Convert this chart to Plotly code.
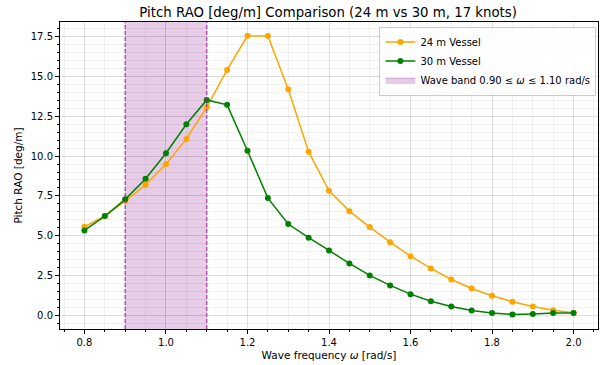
import plotly.graph_objects as go

omega = [0.80, 0.85, 0.90, 0.95, 1.00, 1.05, 1.10, 1.15, 1.20, 1.25, 1.30, 1.35, 1.40,
         1.45, 1.50, 1.55, 1.60, 1.65, 1.70, 1.75, 1.80, 1.85, 1.90, 1.95, 2.00]
rao_24m = [5.56, 6.22, 7.17, 8.20, 9.48, 11.08, 13.07, 15.42, 17.56, 17.55, 14.20, 10.28, 7.82,
           6.54, 5.54, 4.59, 3.71, 2.94, 2.24, 1.68, 1.22, 0.84, 0.55, 0.31, 0.15]
rao_30m = [5.33, 6.23, 7.28, 8.58, 10.18, 12.00, 13.53, 13.22, 10.34, 7.36, 5.73, 4.87, 4.07,
           3.25, 2.50, 1.87, 1.32, 0.88, 0.55, 0.29, 0.13, 0.04, 0.08, 0.13, 0.13]
band_lo, band_hi = 0.90, 1.10

FONT = "DejaVu Sans"
fig = go.Figure()

fig.add_vrect(x0=band_lo, x1=band_hi, fillcolor="rgba(128,0,128,0.2)", line_width=0, layer="below")
for xv in (band_lo, band_hi):
    fig.add_vline(x=xv, line=dict(color="rgba(150,40,160,0.85)", width=1.3, dash="4px,2px"), layer="above")

fig.add_trace(go.Scatter(x=omega, y=rao_24m, mode="lines+markers", name="24 m Vessel",
                         line=dict(color="#FFA500", width=1.5), marker=dict(size=6, color="#FFA500")))
fig.add_trace(go.Scatter(x=omega, y=rao_30m, mode="lines+markers", name="30 m Vessel",
                         line=dict(color="#008000", width=1.5), marker=dict(size=6, color="#008000")))
fig.add_trace(go.Scatter(x=[None], y=[None], mode="lines", fill="toself",
                         fillcolor="rgba(128,0,128,0.2)", line=dict(width=1, color="rgba(128,0,128,0.25)"),
                         name="Wave band 0.90 ≤ <i>ω</i> ≤ 1.10 rad/s"))

axis_common = dict(showline=True, linecolor="black", linewidth=1, mirror=True,
                   ticks="outside", ticklen=4, tickcolor="black",
                   showgrid=True, gridcolor="rgba(0,0,0,0.13)", gridwidth=1,
                   zeroline=False, tickfont=dict(family=FONT, size=10, color="black"))

fig.update_xaxes(range=[0.74, 2.06], dtick=0.2, tick0=0.8, tickformat=".1f",
                 title=dict(text="Wave frequency <i>ω</i> [rad/s]", font=dict(family=FONT, size=10.5, color="black"), standoff=4),
                 minor=dict(dtick=0.05, tick0=0.8, showgrid=True, gridcolor="rgba(0,0,0,0.05)",
                            ticks="outside", ticklen=2, tickcolor="black"),
                 **axis_common)
fig.update_yaxes(range=[-0.87, 18.43], dtick=2.5, tick0=0, tickformat=".1f",
                 title=dict(text="Pitch RAO [deg/m]", font=dict(family=FONT, size=10.5, color="black"), standoff=6),
                 minor=dict(dtick=0.5, tick0=0, showgrid=True, gridcolor="rgba(0,0,0,0.05)",
                            ticks="outside", ticklen=2, tickcolor="black"),
                 **axis_common)

fig.update_layout(
    width=601, height=365,
    margin=dict(l=60, r=3, t=22, b=36),
    plot_bgcolor="white", paper_bgcolor="white",
    title=dict(text="Pitch RAO [deg/m] Comparison (24 m vs 30 m, 17 knots)",
               font=dict(family=FONT, size=13.3, color="black"), x=0.546, xanchor="center", y=0.965, yanchor="middle"),
    legend=dict(x=0.997, y=0.985, xanchor="right", yanchor="top",
                bgcolor="rgba(255,255,255,0.85)", bordercolor="rgba(0,0,0,0.2)", borderwidth=1,
                font=dict(family=FONT, size=10, color="black"), tracegroupgap=0,
                itemwidth=30),
    showlegend=True,
)

fig.write_html("out.html")
